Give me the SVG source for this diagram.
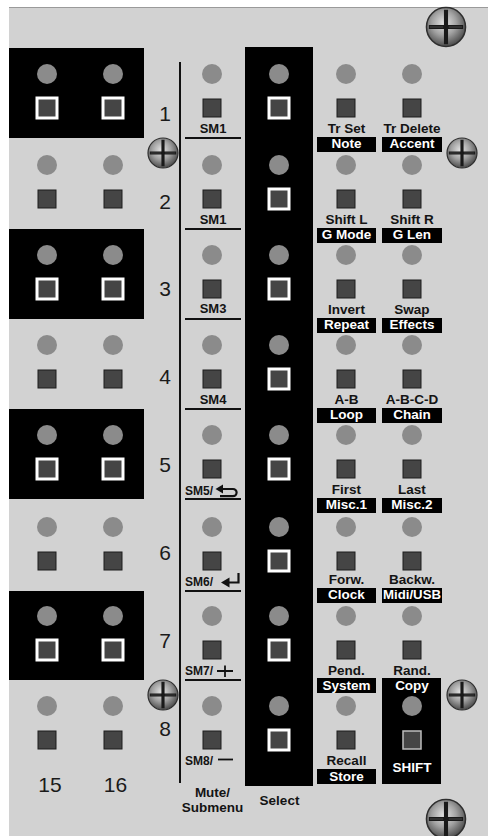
<svg xmlns="http://www.w3.org/2000/svg" xmlns:xlink="http://www.w3.org/1999/xlink" width="488" height="836" viewBox="0 0 488 836">
<style>
.led{fill:#8b8b8b}
.btn{fill:#454545;stroke:#1c1c1c;stroke-width:1}
.btnw{fill:#454545;stroke:#ffffff;stroke-width:3}
.blk{fill:#000}
.lbl{font-family:"Liberation Sans",Arial,sans-serif;font-weight:bold;font-size:13.5px;fill:#141414;text-anchor:middle}
.wl{font-family:"Liberation Sans",Arial,sans-serif;font-weight:bold;font-size:13.5px;fill:#ffffff;text-anchor:middle}
.num{font-family:"Liberation Sans",Arial,sans-serif;font-size:21px;fill:#1a1a1a;text-anchor:middle}
.sm{font-family:"Liberation Sans",Arial,sans-serif;font-weight:bold;font-size:13px;fill:#141414}
.sm2{font-family:"Liberation Sans",Arial,sans-serif;font-weight:bold;font-size:12px;fill:#141414}
.rule{stroke:#111;stroke-width:2;fill:none}
.ico{stroke:#111;stroke-width:2.2;fill:none}
</style>
<defs>
<radialGradient id="sg" cx="0.45" cy="0.4" r="0.62">
<stop offset="0" stop-color="#e4e4e4"/>
<stop offset="0.5" stop-color="#a2a2a2"/>
<stop offset="1" stop-color="#464646"/>
</radialGradient>
<g id="screw">
<circle r="10" fill="url(#sg)" stroke="#2e2e2e" stroke-width="0.8"/>
<path d="M0,-8.8V8.8M-8.8,0H8.8" stroke="#1a1a1a" stroke-width="2.1"/>
<path d="M-8.2,0H-1.4M1.4,0H8.2" stroke="#3a3a3a" stroke-width="0.8"/>
</g>
</defs>

<rect x="0" y="0" width="488" height="836" fill="#ffffff"/>
<rect id="panel" x="9" y="7" width="479" height="829" fill="#d2d2d2"/>
<line x1="9" y1="7.5" x2="488" y2="7.5" stroke="#9a9a9a" stroke-width="1"/>

<g id="connectors"></g>

<g id="left-blocks">
<rect class="blk" x="9" y="48" width="135" height="90"/>
<rect class="blk" x="9" y="229" width="135" height="90"/>
<rect class="blk" x="9" y="409" width="135" height="90"/>
<rect class="blk" x="9" y="591" width="135" height="89"/>
</g>

<g id="step-col-a">
<circle class="led" cx="47" cy="74" r="10"/><rect class="btnw" x="37" y="98" width="20" height="20"/>
<circle class="led" cx="47" cy="165" r="10"/><rect class="btn" x="38" y="190" width="18" height="18"/>
<circle class="led" cx="47" cy="255" r="10"/><rect class="btnw" x="37" y="279" width="20" height="20"/>
<circle class="led" cx="47" cy="345" r="10"/><rect class="btn" x="38" y="370" width="18" height="18"/>
<circle class="led" cx="47" cy="435" r="10"/><rect class="btnw" x="37" y="459" width="20" height="20"/>
<circle class="led" cx="47" cy="527" r="10"/><rect class="btn" x="38" y="552" width="18" height="18"/>
<circle class="led" cx="47" cy="616" r="10"/><rect class="btnw" x="37" y="640" width="20" height="20"/>
<circle class="led" cx="47" cy="706" r="10"/><rect class="btn" x="38" y="731" width="18" height="18"/>
<text class="num" x="50" y="792" font-size="22">15</text>
</g>

<g id="step-col-b">
<circle class="led" cx="113" cy="74" r="10"/><rect class="btnw" x="103" y="98" width="20" height="20"/>
<circle class="led" cx="113" cy="165" r="10"/><rect class="btn" x="104" y="190" width="18" height="18"/>
<circle class="led" cx="113" cy="255" r="10"/><rect class="btnw" x="103" y="279" width="20" height="20"/>
<circle class="led" cx="113" cy="345" r="10"/><rect class="btn" x="104" y="370" width="18" height="18"/>
<circle class="led" cx="113" cy="435" r="10"/><rect class="btnw" x="103" y="459" width="20" height="20"/>
<circle class="led" cx="113" cy="527" r="10"/><rect class="btn" x="104" y="552" width="18" height="18"/>
<circle class="led" cx="113" cy="616" r="10"/><rect class="btnw" x="103" y="640" width="20" height="20"/>
<circle class="led" cx="113" cy="706" r="10"/><rect class="btn" x="104" y="731" width="18" height="18"/>
<text class="num" x="115.5" y="792" font-size="22">16</text>
</g>

<g id="track-numbers">
<text class="num" x="165" y="121">1</text>
<text class="num" x="165" y="209">2</text>
<text class="num" x="165" y="296">3</text>
<text class="num" x="165" y="384">4</text>
<text class="num" x="165" y="472">5</text>
<text class="num" x="165" y="560">6</text>
<text class="num" x="165" y="648">7</text>
<text class="num" x="165" y="736">8</text>
</g>

<line id="divider" x1="180" y1="62" x2="180" y2="783" stroke="#111" stroke-width="2"/>

<g id="mute-col">
<circle class="led" cx="212" cy="74" r="10"/><rect class="btn" x="203" y="99" width="18" height="18"/>
<text class="sm" x="213" y="133" text-anchor="middle">SM1</text><line class="rule" x1="185" y1="138" x2="241" y2="138"/>
<circle class="led" cx="212" cy="165" r="10"/><rect class="btn" x="203" y="190" width="18" height="18"/>
<text class="sm" x="213" y="224" text-anchor="middle">SM1</text><line class="rule" x1="185" y1="229" x2="241" y2="229"/>
<circle class="led" cx="212" cy="255" r="10"/><rect class="btn" x="203" y="280" width="18" height="18"/>
<text class="sm" x="213" y="313" text-anchor="middle">SM3</text><line class="rule" x1="185" y1="319" x2="241" y2="319"/>
<circle class="led" cx="212" cy="345" r="10"/><rect class="btn" x="203" y="370" width="18" height="18"/>
<text class="sm" x="213" y="404" text-anchor="middle">SM4</text><line class="rule" x1="185" y1="409" x2="241" y2="409"/>
<circle class="led" cx="212" cy="435" r="10"/><rect class="btn" x="203" y="460" width="18" height="18"/>
<text class="sm2" x="185" y="495">SM5/</text>
<path class="ico" d="M222,489H233A3.6,3.6 0 0 1 233,496.2H220"/><polygon points="215.5,489 223,484.5 223,493.5" fill="#111"/>
<line class="rule" x1="185" y1="499" x2="241" y2="499"/>
<circle class="led" cx="212" cy="527" r="10"/><rect class="btn" x="203" y="552" width="18" height="18"/>
<text class="sm2" x="185" y="586">SM6/</text>
<path class="ico" d="M238.5,573V582.5H227"/><polygon points="221,582.5 229.5,577.5 229.5,587.5" fill="#111"/>
<line class="rule" x1="185" y1="591" x2="241" y2="591"/>
<circle class="led" cx="212" cy="616" r="10"/><rect class="btn" x="203" y="641" width="18" height="18"/>
<text class="sm2" x="185" y="675">SM7/</text>
<path d="M217,671H233M225,665.5V677" stroke="#111" stroke-width="1.8"/>
<line class="rule" x1="185" y1="680" x2="241" y2="680"/>
<circle class="led" cx="212" cy="706" r="10"/><rect class="btn" x="203" y="731" width="18" height="18"/>
<text class="sm2" x="185" y="765">SM8/</text>
<path d="M218,759.5H233" stroke="#111" stroke-width="1.8"/>
<text class="lbl" x="212.5" y="797" font-size="15">Mute/</text>
<text class="lbl" x="212.5" y="812" font-size="15">Submenu</text>
</g>

<g id="select-col">
<rect class="blk" x="245" y="47" width="68" height="739"/>
<circle class="led" cx="279" cy="74" r="10"/><rect class="btnw" x="269" y="98" width="20" height="20"/>
<circle class="led" cx="279" cy="165" r="10"/><rect class="btnw" x="269" y="189" width="20" height="20"/>
<circle class="led" cx="279" cy="255" r="10"/><rect class="btnw" x="269" y="279" width="20" height="20"/>
<circle class="led" cx="279" cy="345" r="10"/><rect class="btnw" x="269" y="369" width="20" height="20"/>
<circle class="led" cx="279" cy="435" r="10"/><rect class="btnw" x="269" y="459" width="20" height="20"/>
<circle class="led" cx="279" cy="527" r="10"/><rect class="btnw" x="269" y="551" width="20" height="20"/>
<circle class="led" cx="279" cy="616" r="10"/><rect class="btnw" x="269" y="640" width="20" height="20"/>
<circle class="led" cx="279" cy="706" r="10"/><rect class="btnw" x="269" y="730" width="20" height="20"/>
<text class="lbl" x="279.5" y="805" font-size="15">Select</text>
</g>

<g id="func-col-a">
<circle class="led" cx="346" cy="74" r="10"/><rect class="btn" x="337" y="99" width="18" height="18"/>
<text class="lbl" x="346.5" y="133">Tr Set</text><rect class="blk" x="317" y="137" width="59" height="15"/><text class="wl" x="346.5" y="148">Note</text>
<circle class="led" cx="346" cy="165" r="10"/><rect class="btn" x="337" y="190" width="18" height="18"/>
<text class="lbl" x="346.5" y="224">Shift L</text><rect class="blk" x="317" y="228" width="59" height="15"/><text class="wl" x="346.5" y="239">G Mode</text>
<circle class="led" cx="346" cy="255" r="10"/><rect class="btn" x="337" y="280" width="18" height="18"/>
<text class="lbl" x="346.5" y="314">Invert</text><rect class="blk" x="317" y="318" width="59" height="15"/><text class="wl" x="346.5" y="329">Repeat</text>
<circle class="led" cx="346" cy="345" r="10"/><rect class="btn" x="337" y="370" width="18" height="18"/>
<text class="lbl" x="346.5" y="404">A-B</text><rect class="blk" x="317" y="408" width="59" height="15"/><text class="wl" x="346.5" y="419">Loop</text>
<circle class="led" cx="346" cy="435" r="10"/><rect class="btn" x="337" y="460" width="18" height="18"/>
<text class="lbl" x="346.5" y="494">First</text><rect class="blk" x="317" y="498" width="59" height="15"/><text class="wl" x="346.5" y="509">Misc.1</text>
<circle class="led" cx="346" cy="527" r="10"/><rect class="btn" x="337" y="552" width="18" height="18"/>
<text class="lbl" x="346.5" y="584">Forw.</text><rect class="blk" x="317" y="588" width="59" height="15"/><text class="wl" x="346.5" y="599">Clock</text>
<circle class="led" cx="346" cy="616" r="10"/><rect class="btn" x="337" y="641" width="18" height="18"/>
<text class="lbl" x="346.5" y="675">Pend.</text><rect class="blk" x="317" y="678" width="59" height="15"/><text class="wl" x="346.5" y="690">System</text>
<circle class="led" cx="346" cy="706" r="10"/><rect class="btn" x="337" y="731" width="18" height="18"/>
<text class="lbl" x="346.5" y="765">Recall</text><rect class="blk" x="317" y="769" width="59" height="15"/><text class="wl" x="346.5" y="781">Store</text>
</g>

<g id="func-col-b">
<circle class="led" cx="412" cy="74" r="10"/><rect class="btn" x="403" y="99" width="18" height="18"/>
<text class="lbl" x="412" y="133">Tr Delete</text><rect class="blk" x="382" y="137" width="60" height="15"/><text class="wl" x="412" y="148">Accent</text>
<circle class="led" cx="412" cy="165" r="10"/><rect class="btn" x="403" y="190" width="18" height="18"/>
<text class="lbl" x="412" y="224">Shift R</text><rect class="blk" x="382" y="228" width="60" height="15"/><text class="wl" x="412" y="239">G Len</text>
<circle class="led" cx="412" cy="255" r="10"/><rect class="btn" x="403" y="280" width="18" height="18"/>
<text class="lbl" x="412" y="314">Swap</text><rect class="blk" x="382" y="318" width="60" height="15"/><text class="wl" x="412" y="329">Effects</text>
<circle class="led" cx="412" cy="345" r="10"/><rect class="btn" x="403" y="370" width="18" height="18"/>
<text class="lbl" x="412" y="404">A-B-C-D</text><rect class="blk" x="382" y="408" width="60" height="15"/><text class="wl" x="412" y="419">Chain</text>
<circle class="led" cx="412" cy="435" r="10"/><rect class="btn" x="403" y="460" width="18" height="18"/>
<text class="lbl" x="412" y="494">Last</text><rect class="blk" x="382" y="498" width="60" height="15"/><text class="wl" x="412" y="509">Misc.2</text>
<circle class="led" cx="412" cy="527" r="10"/><rect class="btn" x="403" y="552" width="18" height="18"/>
<text class="lbl" x="412" y="584">Backw.</text><rect class="blk" x="382" y="588" width="60" height="15"/><text class="wl" x="412" y="599" textLength="58" lengthAdjust="spacingAndGlyphs">Midi/USB</text>
<circle class="led" cx="412" cy="616" r="10"/><rect class="btn" x="403" y="641" width="18" height="18"/>
<text class="lbl" x="412" y="675">Rand.</text>
</g>

<g id="shift-block">
<rect class="blk" x="382" y="678" width="59" height="106"/>
<text class="wl" x="412" y="690">Copy</text>
<circle class="led" cx="412" cy="706" r="10"/>
<rect x="403" y="731" width="18" height="18" fill="#454545" stroke="#bdbdbd" stroke-width="1.5"/>
<text class="wl" x="412" y="772" font-size="15">SHIFT</text>
</g>

<g id="screws">
<use xlink:href="#screw" href="#screw" transform="translate(446,27) scale(1.95)"/>
<use xlink:href="#screw" href="#screw" transform="translate(163,153) scale(1.5)"/>
<use xlink:href="#screw" href="#screw" transform="translate(462,153) scale(1.5)"/>
<use xlink:href="#screw" href="#screw" transform="translate(163,695) scale(1.5)"/>
<use xlink:href="#screw" href="#screw" transform="translate(462,695) scale(1.5)"/>
<use xlink:href="#screw" href="#screw" transform="translate(446,819) scale(1.95)"/>
</g>
</svg>
